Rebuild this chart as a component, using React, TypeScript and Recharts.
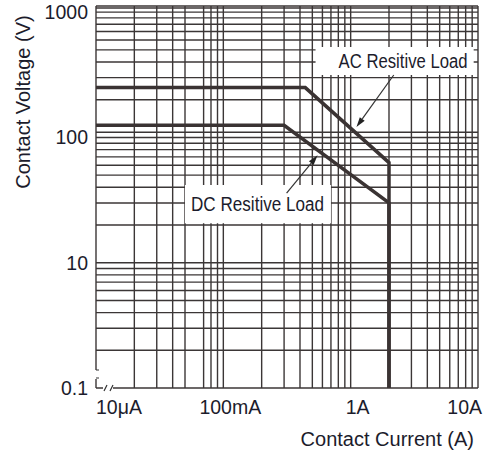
import {
  LineChart,
  Line,
  XAxis,
  YAxis,
  ReferenceArea,
  ReferenceLine,
} from "recharts";

// contact current (A) / voltage (V) along each limit curve
const acCurrent = [0.01, 0.44, 2, 2];
const acVoltage = [250, 250, 63, 1];
const dcCurrent = [0.01, 0.3, 2, 2];
const dcVoltage = [125, 125, 30, 1];

const xTicks = [0.01, 0.1, 1, 10];
const xTickLabels = ["10μA", "100mA", "1A", "10A"];
const yTicks = [1, 10, 100, 1000];
const yTickLabels = ["0.1", "10", "100", "1000"];

const xGrid = [
  0.01, 0.02, 0.03, 0.04, 0.05, 0.07, 0.08, 0.09,
  0.1, 0.2, 0.3, 0.4, 0.5, 0.6, 0.7, 0.8, 0.9,
  1, 2, 3, 4, 5, 6, 7, 8, 9, 10,
];
const yGrid = [
  1, 2, 3, 4, 5, 6, 7, 8, 9,
  10, 20, 30, 40, 50, 60, 70, 80, 90,
  100, 110, 200, 300, 400, 500, 600, 700, 800, 900,
  1000, 1080, 1120,
];

const acData = acCurrent.map((c, i) => ({ current: c, voltage: acVoltage[i] }));
const dcData = dcCurrent.map((c, i) => ({ current: c, voltage: dcVoltage[i] }));

const INK = "#1c1c2c";
const GRID = "#3b3636";
const CURVE = "#3a3333";
const FONT = "'Liberation Sans', Arial, sans-serif";
const NARROW = "'Liberation Sans Narrow', 'Liberation Sans', Arial, sans-serif";

const XTick = ({ x, y, index }: any) => {
  const last = index === xTicks.length - 1;
  const anchor = index === 0 ? "start" : last ? "end" : "middle";
  const dx = index === 0 ? 0 : last ? 4 : 7;
  return (
    <text x={x + dx} y={y + 18} textAnchor={anchor} fill={INK} fontSize={19.5} fontFamily={FONT}>
      {xTickLabels[index]}
    </text>
  );
};

const YTick = ({ x, y, index }: any) => (
  <text x={x} y={y} dy="0.35em" textAnchor="end" fill={INK} fontSize={19.5} fontFamily={FONT}>
    {yTickLabels[index]}
  </text>
);

const Arrow = (p: any) => {
  const { x1, y1, x2, y2 } = p;
  const a = Math.atan2(y2 - y1, x2 - x1);
  const len = 10;
  const w = 3;
  const bx = x2 - len * Math.cos(a);
  const by = y2 - len * Math.sin(a);
  const nx = -Math.sin(a) * w;
  const ny = Math.cos(a) * w;
  return (
    <g>
      <line x1={x1} y1={y1} x2={bx} y2={by} stroke="#333" strokeWidth={1.2} />
      <polygon points={`${x2},${y2} ${bx + nx},${by + ny} ${bx - nx},${by - ny}`} fill="#222" />
    </g>
  );
};

const boxLabel = (text: string, inset: number, width: number) => (props: any) => {
  const vb = props.viewBox;
  return (
    <text
      x={vb.x + inset}
      y={vb.y + vb.height / 2}
      dy="0.35em"
      fill={INK}
      fontSize={20}
      fontFamily={NARROW}
      textLength={width}
      lengthAdjust="spacingAndGlyphs"
    >
      {text}
    </text>
  );
};

export default function App() {
  return (
    <div style={{ position: "absolute", left: 0, top: 0, width: 495, height: 453, background: "#fff" }}>
      <LineChart
        width={495}
        height={453}
        margin={{ top: 6, right: 17, left: 0, bottom: 0 }}
      >
        <XAxis
          type="number"
          dataKey="current"
          scale="log"
          domain={[0.01, 10]}
          ticks={xTicks}
          allowDataOverflow
          axisLine={false}
          tickLine={false}
          tickSize={6}
          tickMargin={2}
          height={65}
          tick={XTick}
          label={{
            content: (props: any) => {
              const vb = props.viewBox;
              return (
                <text x={vb.x + vb.width - 4} y={vb.y + 58} textAnchor="end" fill={INK} fontSize={20} fontFamily={FONT}>
                  Contact Current (A)
                </text>
              );
            },
          }}
        />
        <YAxis
          type="number"
          dataKey="voltage"
          scale="log"
          domain={[1, 1120]}
          ticks={yTicks}
          allowDataOverflow
          axisLine={false}
          tickLine={false}
          tickSize={6}
          tickMargin={2}
          width={96}
          tick={YTick}
          label={{
            content: (props: any) => {
              const vb = props.viewBox;
              const cx = vb.x + 23;
              const cy = vb.y + 96;
              return (
                <text
                  x={cx}
                  y={cy}
                  dy="0.35em"
                  textAnchor="middle"
                  transform={`rotate(-90, ${cx}, ${cy})`}
                  fill={INK}
                  fontSize={20}
                  fontFamily={FONT}
                >
                  Contact Voltage (V)
                </text>
              );
            },
          }}
        />
        {xGrid.map((v) => (
          <ReferenceLine key={`gx${v}`} x={v} stroke={GRID} strokeWidth={1.4} zIndex={-100} />
        ))}
        {yGrid.map((v) => (
          <ReferenceLine key={`gy${v}`} y={v} stroke={GRID} strokeWidth={1.4} zIndex={-100} />
        ))}
        <ReferenceArea
          x1={0.53}
          x2={9.25}
          y1={315}
          y2={526}
          fill="#fff"
          fillOpacity={1}
          stroke="none"
          zIndex={-50}
          label={{ content: boxLabel("AC Resitive Load", 23, 129) }}
        />
        <ReferenceArea
          x1={0.05}
          x2={0.7}
          y1={20.7}
          y2={41.7}
          fill="#fff"
          fillOpacity={1}
          stroke="none"
          zIndex={-50}
          label={{ content: boxLabel("DC Resitive Load", 6, 133) }}
        />
        <Line
          data={acData}
          dataKey="voltage"
          type="linear"
          stroke={CURVE}
          strokeWidth={3.5}
          dot={false}
          isAnimationActive={false}
        />
        <Line
          data={dcData}
          dataKey="voltage"
          type="linear"
          stroke={CURVE}
          strokeWidth={3.5}
          dot={false}
          isAnimationActive={false}
        />
        <ReferenceLine
          segment={[
            { x: 2.18, y: 315 },
            { x: 1.11, y: 121 },
          ]}
          shape={Arrow}
        />
        <ReferenceLine
          segment={[
            { x: 0.314, y: 36 },
            { x: 0.55, y: 72 },
          ]}
          shape={Arrow}
        />
      </LineChart>
      <svg
        width={495}
        height={453}
        style={{ position: "absolute", left: 0, top: 0, pointerEvents: "none" }}
      >
        <rect x={94} y={370} width={5} height={9} fill="#fff" />
        <path d="M99,370 H96 M96,378 H99" stroke="#333" strokeWidth={1.2} fill="none" />
        <rect x={103} y={386} width={10} height={5} fill="#fff" />
        <path d="M104,391 L107,385 M110,391 L113,385" stroke="#333" strokeWidth={1.2} fill="none" />
      </svg>
    </div>
  );
}
